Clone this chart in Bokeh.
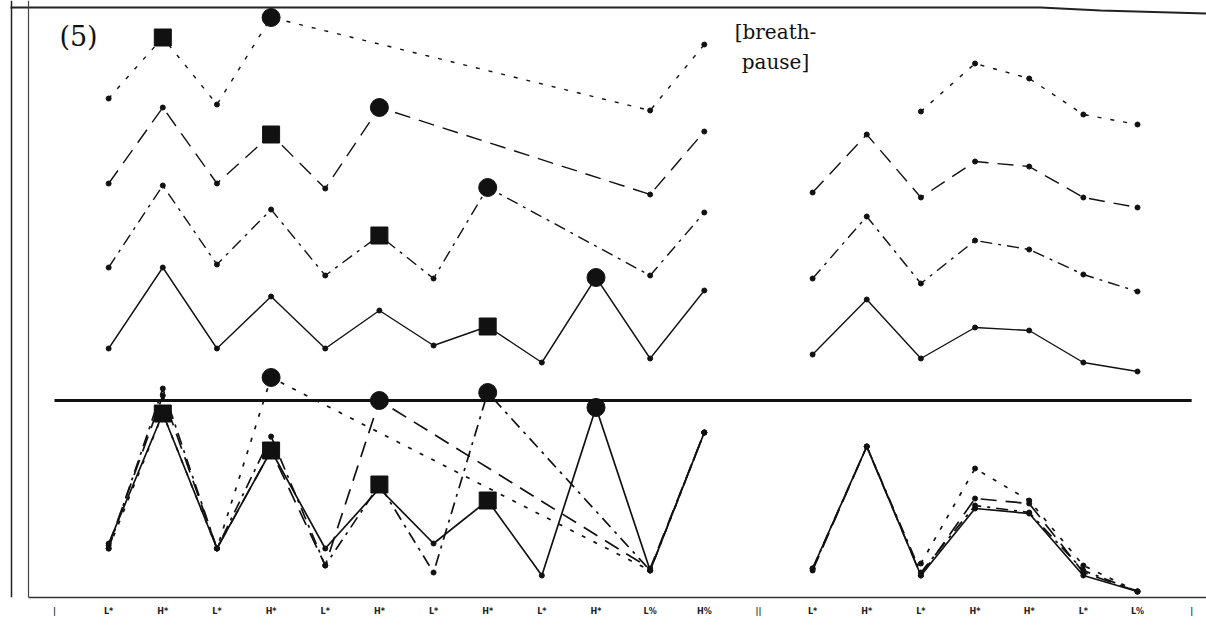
from bokeh.plotting import figure
from bokeh.models import Range1d, FixedTicker, Span
from bokeh.embed import file_html
from bokeh.resources import INLINE
from bokeh.core.properties import value

# ---------------- data ----------------
tone_labels = ["|", "L*", "H*", "L*", "H*", "L*", "H*", "L*", "H*", "L*", "H*",
               "L%", "H%", "||", "L*", "H*", "L*", "H*", "H*", "L*", "L%", "|"]

baseline_level = 200

# upper panel: four stacked contours (A dotted, B dashed, C dash-dot, D solid)
upA_x1 = [1, 2, 3, 4, 11, 12]
upA_y1 = [502, 563, 496, 583, 490, 556]
upA_x2 = [16, 17, 18, 19, 20]
upA_y2 = [489, 537, 522, 486, 476]

upB_x1 = [1, 2, 3, 4, 5, 6, 11, 12]
upB_y1 = [417, 493, 417, 466, 412, 493, 406, 469]
upB_x2 = [14, 15, 16, 17, 18, 19, 20]
upB_y2 = [408, 466, 403, 439, 434, 403, 393]

upC_x1 = [1, 2, 3, 4, 5, 6, 7, 8, 11, 12]
upC_y1 = [333, 415, 336, 391, 325, 365, 322, 413, 325, 388]
upC_x2 = [14, 15, 16, 17, 18, 19, 20]
upC_y2 = [322, 384, 317, 360, 351, 326, 309]

upD_x1 = [1, 2, 3, 4, 5, 6, 7, 8, 9, 10, 11, 12]
upD_y1 = [252, 333, 252, 304, 252, 290, 255, 274, 238, 323, 242, 310]
upD_x2 = [14, 15, 16, 17, 18, 19, 20]
upD_y2 = [246, 301, 242, 273, 270, 238, 229]

# lower panel: the same four contours overlaid
loA_x1 = [1, 2, 3, 4, 11, 12]
loA_y1 = [52, 187, 52, 223, 30, 168]
loA_x2 = [16, 17, 18, 19, 20]
loA_y2 = [37, 132, 100, 35, 9]

loB_x1 = [1, 2, 3, 4, 5, 6, 11, 12]
loB_y1 = [55, 205, 52, 150, 35, 200, 32, 168]
loB_x2 = [14, 15, 16, 17, 18, 19, 20]
loB_y2 = [30, 154, 25, 102, 97, 28, 9]

loC_x1 = [1, 2, 3, 4, 5, 6, 7, 8, 11, 12]
loC_y1 = [52, 212, 52, 164, 35, 116, 28, 208, 30, 168]
loC_x2 = [14, 15, 16, 17, 18, 19, 20]
loC_y2 = [32, 154, 28, 95, 88, 30, 9]

loD_x1 = [1, 2, 3, 4, 5, 6, 7, 8, 9, 10, 11, 12]
loD_y1 = [57, 187, 52, 150, 52, 112, 57, 100, 25, 193, 30, 168]
loD_x2 = [14, 15, 16, 17, 18, 19, 20]
loD_y2 = [32, 154, 25, 92, 87, 25, 9]

# accent positions (square = one accent, circle = other) per contour
square_at = {"A": 2, "B": 4, "C": 6, "D": 8}
circle_at = {"A": 4, "B": 6, "C": 8, "D": 10}

styles = {"A": ("4 9", 1.4), "B": ("16 9", 1.4), "C": ("12 6 3 6", 1.4), "D": ("solid", 1.4)}

# ---------------- figure ----------------
W, H = 1206, 630
X0_PX = 54.0
DX_PX = 54.15


def xd(px):
    return (px - X0_PX) / DX_PX


p = figure(width=W, height=H, output_backend="svg", toolbar_location=None,
           x_range=Range1d(xd(0), xd(W)),
           y_range=Range1d(3, 600), y_axis_location=None,
           min_border_left=0, min_border_right=0, min_border_top=0, min_border_bottom=33)
p.grid.visible = False
p.outline_line_color = None
p.background_fill_color = "white"
p.border_fill_color = "white"

ax = p.xaxis[0]
ax.ticker = FixedTicker(ticks=list(range(len(tone_labels))))
ax.major_label_overrides = {i: t for i, t in enumerate(tone_labels)}
ax.major_tick_line_color = None
ax.minor_tick_line_color = None
ax.major_tick_out = 0
ax.major_tick_in = 0
ax.major_label_standoff = 9
ax.major_label_text_font = "DejaVu Sans"
ax.major_label_text_font_size = "8px"
ax.major_label_text_font_style = "bold"
ax.major_label_text_color = "#222222"
ax.axis_line_color = "#333333"
ax.axis_line_width = 1.5
ax.bounds = (xd(28), xd(W))

# frame lines (left double rule, top rule)
p.add_layout(Span(location=xd(11), dimension="height", line_color="#222", line_width=1.5))
p.add_layout(Span(location=xd(28), dimension="height", line_color="#444", line_width=1.2))
p.line([xd(10), xd(1040), xd(1100), xd(1206)], [593, 593, 590, 587], line_color="#222", line_width=2)

# thick reference line between the panels
p.segment(x0=[0], y0=[baseline_level], x1=[len(tone_labels) - 1], y1=[baseline_level],
          line_color="#111", line_width=3)

series = {
    "A": [(upA_x1, upA_y1), (upA_x2, upA_y2), (loA_x1, loA_y1), (loA_x2, loA_y2)],
    "B": [(upB_x1, upB_y1), (upB_x2, upB_y2), (loB_x1, loB_y1), (loB_x2, loB_y2)],
    "C": [(upC_x1, upC_y1), (upC_x2, upC_y2), (loC_x1, loC_y1), (loC_x2, loC_y2)],
    "D": [(upD_x1, upD_y1), (upD_x2, upD_y2), (loD_x1, loD_y1), (loD_x2, loD_y2)],
}

for key, segs in series.items():
    dash, lw = styles[key]
    for k, (xs, ys) in enumerate(segs):
        p.line(xs, ys, line_color="#111", line_width=lw + (0.3 if k >= 2 else 0), line_dash=dash)
        p.scatter(xs, ys, size=5, color="#111")
        if k in (0, 2):  # first segment carries the accent markers
            sq = square_at[key]
            ci = circle_at[key]
            if sq in xs:
                p.scatter([sq], [ys[xs.index(sq)]], marker="square", size=17, color="#111")
            if ci in xs:
                p.scatter([ci], [ys[xs.index(ci)]], marker="circle", size=18, color="#111")

# annotations
p.text(x=[xd(78)], y=[564], text=["(5)"], text_font=value("DejaVu Serif"),
       text_font_size="27px", text_align="center", text_baseline="middle", text_color="#111")
p.text(x=[xd(775), xd(775)], y=[569, 539],
       text=["[breath-", "pause]"], text_font=value("DejaVu Serif"),
       text_font_size="20px", text_align="center", text_baseline="middle", text_color="#111")

open("out.html", "w").write(file_html(p, INLINE))
